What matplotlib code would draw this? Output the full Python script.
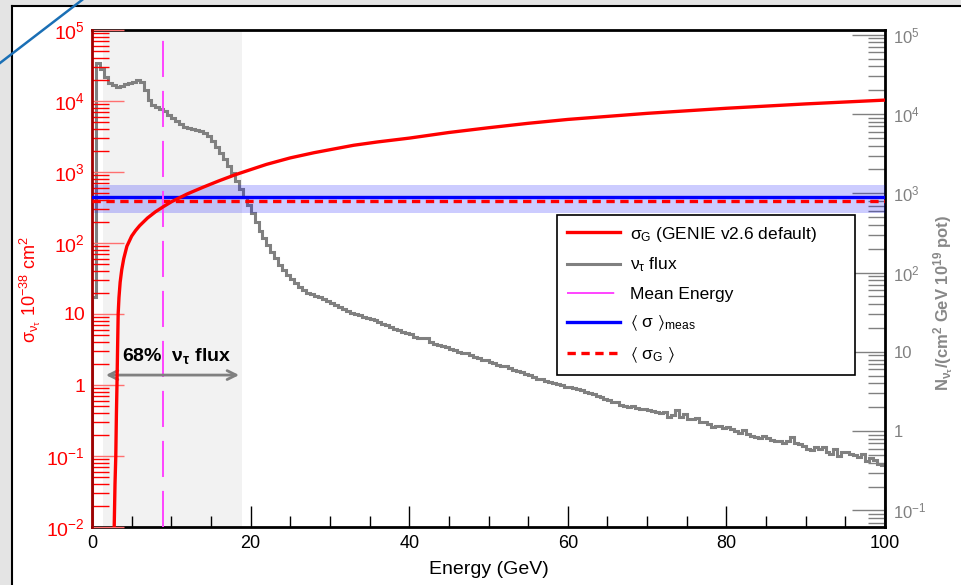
import numpy as np
import matplotlib
matplotlib.use('Agg')
import matplotlib.pyplot as plt
from matplotlib.lines import Line2D
from matplotlib.patches import Rectangle
from matplotlib.ticker import FixedLocator, FixedFormatter, LogLocator, NullFormatter, MultipleLocator

plt.rcParams['font.family'] = ['Liberation Sans', 'DejaVu Sans']
plt.rcParams['mathtext.fontset'] = 'custom'
plt.rcParams['mathtext.rm'] = 'Liberation Sans'
plt.rcParams['mathtext.it'] = 'Liberation Sans:italic'
plt.rcParams['mathtext.bf'] = 'Liberation Sans:bold'
plt.rcParams['mathtext.default'] = 'regular'
plt.rcParams['lines.scale_dashes'] = False

# nu_tau flux per 0.5 GeV bin, N / (cm^2 GeV 1e19 pot)
flux_edges = np.linspace(0, 100, 201)
flux = [
    49, 44000, 37000, 29500, 24500, 23000, 22100, 22900, 24000, 24800,
    25700, 26900, 25100, 20000, 15100, 12900, 12200, 11500, 10800, 9800,
    8900, 8100, 7400, 6900, 6700, 6500, 6300, 6100, 5800, 5250,
    4570, 3850, 3240, 2690, 2190, 1780, 1450, 1150, 890, 710,
    560, 430, 330, 270, 224, 182, 151, 123, 107, 94,
    83, 74, 66, 61, 56, 54, 51, 49, 46, 44,
    41.7, 38.9, 37.2, 34.7, 32.7, 30.9, 29.9, 28.8, 27.9, 26.9,
    26.3, 25.1, 24.0, 22.6, 21.9, 20.7, 19.5, 18.6, 17.8, 17.2,
    16.6, 15.5, 15.1, 14.8, 15.1, 13.5, 12.6, 12.3, 12.0, 11.5,
    11.0, 10.5, 10.0, 9.7, 9.8, 9.0, 8.7, 8.3, 8.0, 7.9,
    7.4, 7.2, 6.9, 6.6, 6.7, 6.2, 5.9, 5.75, 5.55, 5.25,
    5.1, 4.8, 4.6, 4.55, 4.35, 4.15, 4.05, 3.9, 3.85, 3.65,
    3.6, 3.45, 3.4, 3.3, 3.1, 3.0, 2.9, 2.8, 2.7, 2.55,
    2.45, 2.35, 2.3, 2.15, 2.05, 2.0, 2.05, 1.93, 1.9, 1.88,
    1.84, 1.78, 1.76, 1.7, 1.74, 1.51, 1.62, 1.86, 1.51, 1.66,
    1.41, 1.41, 1.48, 1.32, 1.29, 1.23, 1.12, 1.15, 1.17, 1.10,
    1.12, 1.05, 1.0, 0.95, 1.02, 0.91, 0.87, 0.85, 0.81, 0.87,
    0.83, 0.78, 0.74, 0.76, 0.71, 0.74, 0.85, 0.71, 0.69, 0.65,
    0.60, 0.58, 0.63, 0.60, 0.63, 0.55, 0.52, 0.60, 0.49, 0.55,
    0.54, 0.51, 0.50, 0.47, 0.52, 0.42, 0.46, 0.43, 0.39, 0.37,
]

# GENIE v2.6 nu_tau CC cross section (1e-38 cm^2)
sigma_energy = [2.8, 2.9, 3.0, 3.08, 3.15, 3.22, 3.3, 3.4, 3.55, 3.75, 4.0, 4.4,
                5.0, 5.5, 6.0, 7.0, 8.0, 9.0, 10.0, 12.0, 14.0, 16.0, 18.0, 20.0,
                22.0, 25.0, 28.0, 30.0, 33.0, 36.0, 40.0, 45.0, 50.0, 55.0, 60.0,
                70.0, 80.0, 90.0, 100.0]
sigma_genie = [0.01, 0.04, 0.1, 0.4, 1.0, 3.0, 10.0, 17.0, 28.0, 42.0, 60.0, 90.0,
               125.0, 150.0, 175.0, 225.0, 275.0, 325.0, 380.0, 490.0, 610.0, 750.0, 910.0, 1080.0,
               1280.0, 1580.0, 1870.0, 2060.0, 2380.0, 2650.0, 3000.0, 3600.0, 4200.0, 4850.0, 5500.0,
               6700.0, 7900.0, 9100.0, 10300.0]

mean_energy = 8.9
flux68_low, flux68_high = 1.4, 18.9
sigma_meas = 450.0
sigma_meas_low, sigma_meas_high = 267.0, 664.0
sigma_genie_avg = 385.0

left_ticks = [1e-2, 1e-1, 1, 10, 1e2, 1e3, 1e4, 1e5]
left_labels = ['$10^{-2}$', '$10^{-1}$', '1', '10', '$10^{2}$', '$10^{3}$', '$10^{4}$', '$10^{5}$']
right_ticks = [1e-1, 1, 10, 1e2, 1e3, 1e4, 1e5]
right_labels = ['$10^{-1}$', '1', '10', '$10^{2}$', '$10^{3}$', '$10^{4}$', '$10^{5}$']

GREY = '#808080'

fig = plt.figure(figsize=(9.61, 5.85), dpi=100)
fig.patch.set_facecolor('#e4e4e4')

# white page with its border and the pen stroke in the corner
px, py = 12 / 961, 6 / 585
fig.add_artist(Rectangle((px, -0.05), 1.1, 1.05 - py, transform=fig.transFigure,
                         facecolor='white', edgecolor='none', zorder=0))
fig.add_artist(Line2D([px, px], [0, 1 - py], transform=fig.transFigure, color='black', lw=1.5))
fig.add_artist(Line2D([px, 1], [1 - py, 1 - py], transform=fig.transFigure, color='black', lw=1.5))
fig.add_artist(Line2D([0, 82 / 961], [1 - 63 / 585, 1], transform=fig.transFigure,
                      color='#1a6fb5', lw=1.8))

# flux axis (right) underneath, cross-section axis (left) on top
ax = fig.add_axes([92 / 961, 58 / 585, 793 / 961, 497 / 585])
axs = ax.twinx()

ax.axvspan(flux68_low, flux68_high, color='#f2f2f2', lw=0, zorder=0)
ax.stairs(flux, flux_edges, baseline=1e-3, color=GREY, lw=2.2, zorder=2)

ax.set_xlim(0, 100)
ax.set_yscale('log')
ax.set_ylim(0.0617, 1.15e5)
ax.yaxis.tick_right()
ax.yaxis.set_major_locator(FixedLocator(right_ticks))
ax.yaxis.set_major_formatter(FixedFormatter(right_labels))
ax.yaxis.set_minor_locator(LogLocator(base=10, subs=np.arange(2, 10), numticks=20))
ax.yaxis.set_minor_formatter(NullFormatter())
ax.xaxis.set_major_locator(MultipleLocator(20))
ax.xaxis.set_minor_locator(MultipleLocator(5))
ax.tick_params(axis='x', which='major', direction='in', length=15, width=1,
               labelsize=13, pad=6, top=False, colors='black')
ax.tick_params(axis='x', which='minor', direction='in', length=8, width=1, top=False)
ax.tick_params(axis='y', which='major', direction='in', length=24, width=1, color=GREY,
               labelcolor=GREY, labelsize=12, pad=6, left=False, right=True)
ax.tick_params(axis='y', which='minor', direction='in', length=12, width=1, color=GREY,
               left=False, right=True)
for side in ['top', 'bottom', 'right']:
    ax.spines[side].set_linewidth(2)
ax.spines['left'].set_visible(False)
ax.set_xlabel('Energy (GeV)', fontsize=14, labelpad=6)

# cross-section side
axs.axhspan(sigma_meas_low, sigma_meas_high, color=(0, 0, 1, 0.2), lw=0, zorder=1)
axs.axhline(sigma_meas, color='#0000ff', lw=2.4, zorder=3)
axs.axhline(sigma_genie_avg, color='#ff0000', lw=2.4, dashes=(6, 4), zorder=3)
axs.axvline(mean_energy, color='#ff44ff', lw=1.4, dashes=(26, 10), zorder=3)
axs.plot(sigma_energy, sigma_genie, color='#ff0000', lw=2.4, zorder=4)

axs.annotate('', xy=(flux68_low, 1.38), xytext=(flux68_high, 1.38),
             arrowprops=dict(arrowstyle='<->', color=GREY, lw=2, mutation_scale=16))
axs.text(3.8, 2.6, r'68%  $\nu_{\tau}$ flux', fontsize=14, fontweight='bold',
         ha='left', va='center', zorder=5)

axs.set_yscale('log')
axs.set_ylim(1e-2, 1e5)
axs.yaxis.tick_left()
axs.yaxis.set_major_locator(FixedLocator(left_ticks))
axs.yaxis.set_major_formatter(FixedFormatter(left_labels))
axs.yaxis.set_minor_locator(LogLocator(base=10, subs=np.arange(2, 10), numticks=20))
axs.yaxis.set_minor_formatter(NullFormatter())
axs.tick_params(axis='y', which='major', direction='in', length=23, width=1, color='#ff7070',
                labelcolor='#ff0000', labelsize=14, pad=5, left=True, right=False)
axs.tick_params(axis='y', which='minor', direction='in', length=12, width=1, color='#ff0000',
                left=True, right=False)
for side in ['top', 'bottom', 'right']:
    axs.spines[side].set_visible(False)
axs.spines['left'].set_color('#a00000')
axs.spines['left'].set_linewidth(2)

fig.text(30 / 961, 1 - 290 / 585, r'$\sigma_{\nu_{\tau}}\ 10^{-38}\ cm^{2}$', color='#ff0000',
         fontsize=13, rotation=90, ha='center', va='center')
fig.text(944 / 961, 1 - 303 / 585, r'$\mathbf{N_{\nu_{\tau}}/(cm^{2}\ GeV\ 10^{19}\ pot)}$',
         color='#888888', fontsize=12, rotation=90, ha='center', va='center')

handles = [
    Line2D([], [], color='#ff0000', lw=2.4),
    Line2D([], [], color=GREY, lw=2.2),
    Line2D([], [], color='#ff44ff', lw=1.4, dashes=(34, 12)),
    Line2D([], [], color='#0000ff', lw=2.4),
    Line2D([], [], color='#ff0000', lw=2.4, dashes=(6, 4)),
]
labels = [
    r'$\sigma_{G}$ (GENIE v2.6 default)',
    r'$\nu_{\tau}$ flux',
    'Mean Energy',
    r'$\langle\ \sigma\ \rangle_{meas}$',
    r'$\langle\ \sigma_{G}\ \rangle$',
]
leg = axs.legend(handles, labels, loc='upper left',
                 bbox_to_anchor=(557 / 961, 1 - 215 / 585 - 0.01, 298 / 961, 0.01),
                 bbox_transform=fig.transFigure, mode='expand', borderaxespad=0,
                 fontsize=12.5, handlelength=3.05, handletextpad=0.63, labelspacing=0.7,
                 borderpad=0.55, fancybox=False, edgecolor='black', framealpha=1)
leg.get_frame().set_linewidth(1.2)
leg.set_zorder(10)

fig.savefig('out.png', dpi=100, facecolor=fig.get_facecolor())
